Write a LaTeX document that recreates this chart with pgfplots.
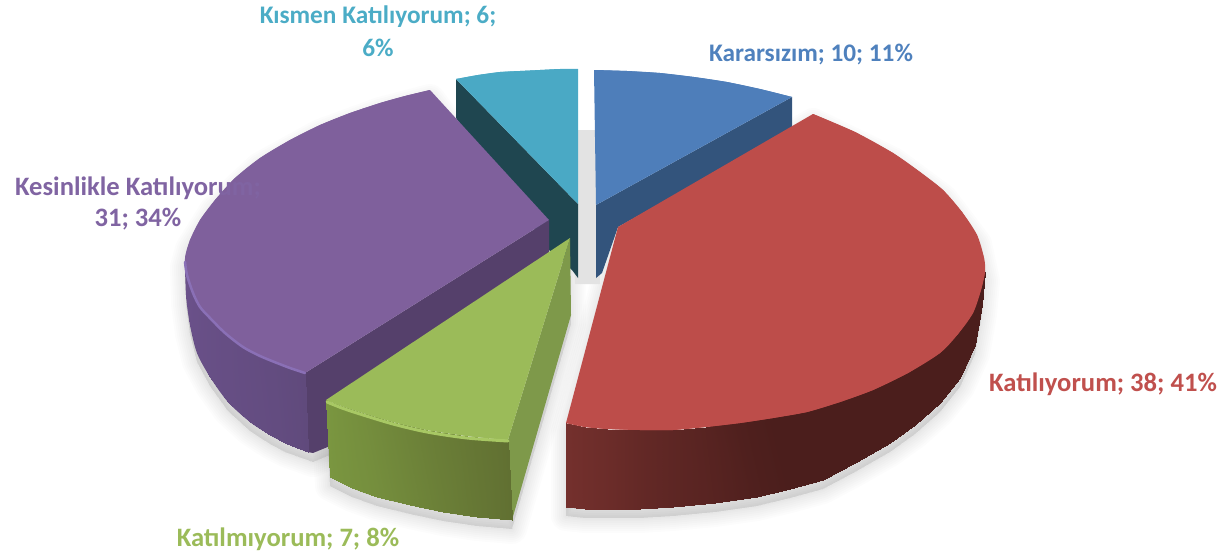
\documentclass[border=0pt]{standalone}
\usepackage{pgfplots}
\pgfplotsset{compat=1.18}
\usepackage{pgfplotstable}
\usepackage{fontspec}
\setmainfont{Carlito}

\definecolor{cblue}{RGB}{78,126,186}
\definecolor{cbluew}{RGB}{51,84,124}
\definecolor{cred}{RGB}{189,77,74}
\definecolor{credw}{RGB}{84,33,31}
\definecolor{cteal}{RGB}{74,169,197}
\definecolor{ctealw}{RGB}{31,70,80}
\definecolor{cpurple}{RGB}{127,96,156}
\definecolor{cpurplew}{RGB}{85,64,107}
\definecolor{cpurples}{RGB}{100,77,130}
\definecolor{cgreen}{RGB}{155,187,89}
\definecolor{cgreenw}{RGB}{126,153,74}
\definecolor{cgreens}{RGB}{108,128,56}
\definecolor{tblue}{RGB}{79,129,189}
\definecolor{tred}{RGB}{192,80,77}
\definecolor{tgreen}{RGB}{155,187,89}
\definecolor{tpurple}{RGB}{128,100,162}
\definecolor{tteal}{RGB}{75,172,198}

\tikzset{
  lab/.style={font=\bfseries\fontsize{26.6}{29}\selectfont, anchor=base, inner sep=0pt},
  labs/.style={font=\bfseries\fontsize{25.3}{29}\selectfont, anchor=base, inner sep=0pt},
}

\pgfplotsset{
  colormap={redwall}{rgb255=(116,48,45) rgb255=(75,30,28)},
  colormap={purplewall}{rgb255=(108,82,140) rgb255=(96,74,124)},
  colormap={greenwall}{rgb255=(122,150,64) rgb255=(97,112,50)},
}

% silhouettes, in picture pixels
\pgfplotstableread{
x y
430 90
380 103
320 125
260 158
215 200
190 240
185 258
186 295
190 325
197 353
210 377
228 402
250 422
270 435
285 443
313 453
330 446
549 248
}\shpurple
\pgfplotstableread{
x y
326 400
330 477
352 488
377 497
410 505
443 512
477 517
512 520
571 315
570 238
}\shgreen
\pgfplotstableread{
x y
618 227
813 114
893 153
943 190
977 235
985 272
982 305
975 345
960 378
940 403
915 425
890 443
855 463
823 480
790 489
757 497
715 503
673 507
640 509
607 509
585 509
566 507
566 423
}\shred

\newcommand{\softlayer}[2]{
  \addplot[draw=black,fill=black,opacity=0.013,line width=#2pt,line join=round] table[x=x,y expr=\thisrow{y}+9] {#1} -- cycle;
}
\newcommand{\softshadow}[1]{
  \softlayer{#1}{30}\softlayer{#1}{26}\softlayer{#1}{22}\softlayer{#1}{18}\softlayer{#1}{14}\softlayer{#1}{10}\softlayer{#1}{6}\softlayer{#1}{3}
}

\begin{document}
\begin{tikzpicture}
\begin{axis}[
  scale only axis, width=1225pt, height=557pt,
  xmin=0, xmax=1225, ymin=0, ymax=557,
  y dir=reverse,
  hide axis,
  point meta min=0, point meta max=1,
]
\path[use as bounding box] (axis cs:0,0) rectangle (axis cs:1225,557);
% shadows
\softshadow{\shpurple}
\softshadow{\shgreen}
\softshadow{\shred}

% floor showing between the two top slices
\addplot[fill=black!11,draw=none] coordinates {(570,130) (597,130) (600,284) (575,284)} -- cycle;

% Kısmen Katılıyorum
\addplot[fill=ctealw,draw=none] coordinates {(456,79) (578,204) (578,278) (572,270) (549,250) (456,118)} -- cycle;
\addplot[fill=cteal,draw=none] coordinates {(456,79) (478,75) (500,72) (520,71) (540,70) (560,69) (578,69) (578,204)} -- cycle;
\addplot[fill=cteal,draw=none,smooth] coordinates {(456,79) (478,75) (500,72) (520,71) (540,70) (560,69) (578,69)} -- cycle;

% Kararsızım
\addplot[fill=cbluew,draw=none] coordinates {(792,97) (792,130) (618,227) (602,273) (596,278) (596,205)} -- cycle;
\addplot[fill=cblue,draw=none] coordinates {(594,70) (627,71) (660,73) (694,77) (727,82) (760,89) (792,97) (596,205)} -- cycle;
\addplot[fill=cblue,draw=none,smooth] coordinates {(594,70) (627,71) (660,73) (694,77) (727,82) (760,89) (792,97)} -- cycle;

% Kesinlikle Katılıyorum
\addplot[fill=cpurplew,draw=none] coordinates {(305,373) (549,220) (549,256) (330,400) (330,446) (313,453) (308,452)} -- cycle;
\addplot[fill=cpurples,draw=none,smooth] coordinates {(185,258) (186,295) (190,325) (197,353) (210,377) (228,402) (250,422) (270,435) (285,443) (297,448) (308,452)} -- cycle;
\addplot[surf,shader=interp,mesh/rows=2,point meta=explicit,colormap name=purplewall] table[x=x,y=y,meta=c] {
x y c
185 258 0
187 275 0.1
193 293 0.2
200 307 0.3
210 318 0.4
225 333 0.5
243 347 0.6
260 356 0.7
277 363 0.8
290 368 0.9
305 373 1
185 258 0
186 295 0.1
190 325 0.2
197 353 0.3
210 377 0.4
228 402 0.5
250 422 0.6
270 435 0.7
285 443 0.8
297 448 0.9
308 452 1
};
\addplot[fill=cpurple,draw=none] coordinates {(430,90) (405,96) (380,103) (350,113) (320,125) (290,140) (260,158) (235,178) (215,200) (200,220) (190,240) (185,258) (187,275) (193,293) (200,307) (210,318) (225,333) (243,347) (260,356) (277,363) (290,368) (305,373) (549,220)} -- cycle;
\addplot[fill=cpurple,draw=none,smooth] coordinates {(430,90) (405,96) (380,103) (350,113) (320,125) (290,140) (260,158) (235,178) (215,200) (200,220) (190,240) (185,258) (187,275) (193,293) (200,307) (210,318) (225,333) (243,347) (260,356) (277,363) (290,368) (305,373)} -- cycle;
\addplot[draw={rgb,255:red,138;green,112;blue,182},line width=2.5pt,line cap=round,smooth] coordinates {(185,262) (187,275) (193,293) (200,307) (210,318) (225,333) (243,347) (260,356) (277,363) (290,368) (305,373)};

% Katılmıyorum
\addplot[fill=cgreenw,draw=none] coordinates {(570,238) (508,440) (512,520) (571,315)} -- cycle;
\addplot[fill=cgreens,draw=none,smooth] coordinates {(330,477) (352,488) (377,497) (410,505) (443,512) (477,517) (512,520)} -- cycle;
\addplot[surf,shader=interp,mesh/rows=2,point meta=explicit,colormap name=greenwall] table[x=x,y=y,meta=c] {
x y c
326 400 0
342 406 0.1
360 412 0.2
393 422 0.4
427 430 0.6
467 436 0.8
508 440 1
330 477 0
352 488 0.1
377 497 0.2
410 505 0.4
443 512 0.6
477 517 0.8
512 520 1
};
\addplot[fill=cgreen,draw=none] coordinates {(326,400) (342,406) (360,412) (393,422) (427,430) (467,436) (508,440) (570,238)} -- cycle;
\addplot[fill=cgreen,draw=none,smooth] coordinates {(326,400) (342,406) (360,412) (393,422) (427,430) (467,436) (508,440)} -- cycle;
\addplot[draw={rgb,255:red,168;green,200;blue,100},line width=3pt,line cap=round,smooth] coordinates {(327,402) (342,408) (360,414) (393,424) (427,432) (467,438) (508,441)};

% Katılıyorum
\addplot[fill=credw,draw=none,smooth] coordinates {(985,272) (982,305) (975,345) (960,378) (940,403) (915,425) (890,443) (855,463) (823,480) (790,489) (757,497) (715,503) (673,507) (640,509) (607,509) (585,509) (566,507)} -- cycle;
\addplot[surf,shader=interp,mesh/rows=2,point meta=explicit,colormap name=redwall] table[x=x,y=y,meta=c] {
x y c
985 272 1
981 290 1
973 313 1
958 334 1
940 353 1
908 373 1
873 390 1
840 402 1
807 412 1
773 418 1
740 423 0.9
706 427 0.7
673 430 0.55
640 430 0.4
607 429 0.2
585 427 0.1
566 423 0
985 272 1
982 305 1
975 345 1
960 378 1
940 403 1
915 425 1
890 443 1
855 463 1
823 480 1
790 489 1
757 497 0.9
715 503 0.7
673 507 0.55
640 509 0.4
607 509 0.2
585 509 0.1
566 507 0
};
\addplot[fill=cred,draw=none] coordinates {(618,227) (813,114) (855,132) (893,153) (920,172) (943,190) (962,212) (977,235) (984,258) (985,272) (981,290) (973,313) (958,334) (940,353) (908,373) (873,390) (840,402) (807,412) (773,418) (740,423) (706,427) (673,430) (640,430) (607,429) (585,427) (566,423)} -- cycle;
\addplot[fill=cred,draw=none,smooth] coordinates {(813,114) (855,132) (893,153) (920,172) (943,190) (962,212) (977,235) (984,258) (985,272) (981,290) (973,313) (958,334) (940,353) (908,373) (873,390) (840,402) (807,412) (773,418) (740,423) (706,427) (673,430) (640,430) (607,429) (585,427) (566,423)} -- cycle;

% labels
\node[labs,text=tteal] at (axis cs:378,23) {Kısmen Katılıyorum; 6;};
\node[labs,text=tteal] at (axis cs:378,56) {6\%};
\node[labs,text=tblue] at (axis cs:811,61) {Kararsızım; 10; 11\%};
\node[lab,text=tpurple] at (axis cs:138,195) {Kesinlikle Katılıyorum;};
\node[lab,text=tpurple] at (axis cs:138,226) {31; 34\%};
\node[lab,text=tred] at (axis cs:1103,391) {Katılıyorum; 38; 41\%};
\node[lab,text=tgreen] at (axis cs:288,546) {Katılmıyorum; 7; 8\%};
\end{axis}
\end{tikzpicture}
\end{document}
